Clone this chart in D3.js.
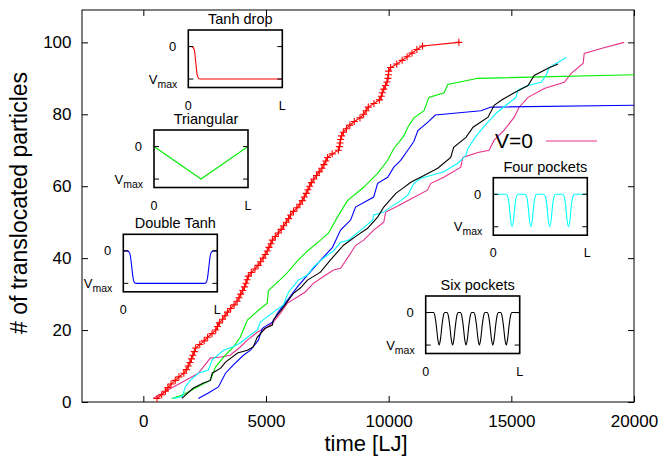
<!DOCTYPE html>
<html><head><meta charset="utf-8">
<script src="https://cdn.jsdelivr.net/npm/d3@7"></script>
<style>html,body{margin:0;padding:0;background:#fff;} svg{display:block;font-family:"Liberation Sans",Arial,Helvetica,sans-serif;}</style>
</head><body><svg id="c" width="662" height="461"></svg>
<script>
// ---------------- DATA ----------------
const xTicks = [0, 5000, 10000, 15000, 20000];
const yTicks = [0, 20, 40, 60, 80, 100];
const xLabel = "time [LJ]";
const yLabel = "# of translocated particles";
const legendLabel = "V=0";

// Tanh drop (red, with + markers)
const tanhDrop = [[560,1],[750,2],[900,3],[1000,4],[1130,5],[1300,6],[1450,7],[1650,8],[1750,9],[1830,10],
[1900,11],[1960,12],[2020,13],[2080,14],[2130,15],[2300,16],[2480,17],[2620,18],[2800,19],[2950,20],
[3020,21],[3100,22],[3230,23],[3330,24],[3430,25],[3560,26],[3700,27],[3820,28],[3900,29],[3970,30],
[4050,31],[4120,32],[4180,33],[4230,34],[4280,35],[4400,36],[4550,37],[4680,38],[4780,39],[4880,40],
[4970,41],[5050,42],[5120,43],[5200,44],[5260,45],[5380,46],[5500,47],[5620,48],[5720,49],[5830,50],
[5920,51],[6000,52],[6120,53],[6260,54],[6380,55],[6480,56],[6560,57],[6640,58],[6710,59],[6780,60],
[6850,61],[6950,62],[7060,63],[7170,64],[7280,65],[7360,66],[7440,67],[7510,68],[7700,69],[7950,70],
[7990,71],[8020,72],[8040,73],[8080,74],[8150,75],[8280,76],[8420,77],[8600,78],[8830,79],[8980,80],
[9080,81],[9170,82],[9400,83],[9620,84],[9700,85],[9740,86],[9800,87],[9870,88],[9930,89],[9970,90],
[9990,91],[10000,92],[10080,93],[10330,94],[10550,95],[10750,96],[10950,97],[11150,98],[11380,99],[12860,100]];

// Triangular (green)
const triangular = [[1160,1],[1620,2],[2240,4.3],[2730,6],[2940,9.7],[3270,12.5],[3670,15.3],[3950,18],
[4240,22.8],[4690,25.5],[5050,27.5],[5100,31],[5580,34],[5870,36],[6320,39.5],[6690,42],[7220,45],
[7550,47],[7910,51.4],[8320,56],[8980,59.7],[9550,63.6],[9960,67.2],[10210,70.5],[10620,74],
[10780,76.4],[11030,79],[11440,81],[11640,84.7],[12260,86],[12410,88.3],[13640,90],[20000,91]];

// Double Tanh (blue)
const doubleTanh = [[2240,1],[2650,2.5],[3060,4.2],[3350,8],[3670,10.3],[4080,13],[4370,14.4],[4690,17.2],
[4850,20.5],[5260,22.2],[5500,25],[5870,28.3],[6280,32],[6690,35.3],[7220,39.4],[7710,43],[8040,47.8],
[8450,50.6],[8650,54.2],[9390,57],[9550,60.8],[9960,62.5],[10210,65.3],[10490,67.2],[10780,70],
[11030,72.5],[11190,75.5],[11600,77.8],[11900,79.8],[13760,81],[14170,82],[20000,82.5]];

// Four pockets (cyan)
const fourPockets = [[1220,1],[1590,1.5],[1710,4.2],[1910,6],[2240,8],[2650,8.9],[2810,11.7],[3270,14.4],
[3630,15.3],[3950,16.4],[4240,18],[4640,20],[4770,22.2],[5300,25],[5710,27],[5920,30.6],[6320,33.9],
[6690,35.3],[6930,37.5],[7340,40],[7750,42],[8040,44.4],[8360,45],[8860,47.8],[9350,50.6],[9390,52],
[9800,52.8],[10080,54.2],[10490,56],[10780,57.5],[11030,60.8],[11310,62.2],[11720,63],[12240,64],
[12820,66.4],[13150,68.6],[13230,70.5],[13640,74.7],[14050,77.8],[14380,80.3],[14870,83],[15190,84.7],
[15270,86.7],[15680,88],[16210,88.9],[16420,90.8],[16540,93],[17240,95.8]];

// Six pockets (black)
const sixPockets = [[1570,1],[2040,3.9],[2450,5.3],[2730,6],[2810,8],[3150,9.4],[3350,11.1],[3840,13.6],
[4240,14.4],[4480,15.3],[4640,18],[4970,20.5],[5260,21.4],[5300,22.8],[5710,26.4],[6130,30.3],
[6400,31.7],[6690,33.9],[7220,36.1],[7630,39.5],[8160,43.6],[8730,46.4],[9140,48.3],[9550,51.4],
[9800,54.2],[10290,58],[10570,59.4],[10900,61.1],[11440,63],[12000,65],[12530,68],[12650,70.8],
[13150,73.6],[13440,76.4],[14050,79.2],[14300,82.5],[14590,83.9],[15120,86],[15680,88],[15930,90.8],
[16500,92.8],[16900,94]];

// V=0 (magenta)
const vZero = [[400,1],[800,2.5],[1220,4.2],[1710,6],[2240,8],[2730,12.2],[3150,12.5],[3540,13],[3950,15.3],
[4240,17.2],[4640,19.4],[5050,20.8],[5300,22.2],[5590,24.7],[5870,27.5],[6280,29.2],[6600,30.6],
[6930,33],[7300,34.7],[7750,36.7],[8040,37.2],[8320,40],[8650,43.5],[8980,45],[9390,47.8],[9800,50],
[9880,52.8],[10370,54.5],[10980,56.7],[11580,58.9],[11720,60.8],[12250,62.5],[12940,65.3],[13020,68],
[13640,69.4],[14090,70],[14300,72.8],[14710,75.6],[15120,79.2],[15310,81.9],[15680,84.7],[16340,87.2],
[17160,88.9],[17440,91.4],[17930,94.2],[17970,96.9],[18660,98.3],[19600,100]];

// Inset potential profiles: [position along pore (0..L), V (0..Vmax=-1)]
const potTanhDrop = [[0,0],[0.03,0],[0.05,-0.02],[0.065,-0.12],[0.08,-0.5],[0.095,-0.88],[0.11,-0.98],[0.125,-1],[0.15,-1],[1,-1]];
const potTriangular = [[0,0],[0.5,-1],[1,0]];
const potDoubleTanh = [[0,0],[0.04,0],[0.06,-0.03],[0.075,-0.15],[0.09,-0.5],[0.105,-0.85],[0.12,-0.98],[0.14,-1],
[0.86,-1],[0.88,-0.98],[0.895,-0.85],[0.91,-0.5],[0.925,-0.15],[0.94,-0.03],[0.96,0],[1,0]];
const potFourPockets = [[0,0],[0.135,0],[0.155,-0.08],[0.17,-0.35],[0.185,-0.8],[0.2,-1],[0.215,-0.8],[0.23,-0.35],[0.245,-0.08],[0.265,0],
[0.335,0],[0.355,-0.08],[0.37,-0.35],[0.385,-0.8],[0.4,-1],[0.415,-0.8],[0.43,-0.35],[0.445,-0.08],[0.465,0],
[0.535,0],[0.555,-0.08],[0.57,-0.35],[0.585,-0.8],[0.6,-1],[0.615,-0.8],[0.63,-0.35],[0.645,-0.08],[0.665,0],
[0.735,0],[0.755,-0.08],[0.77,-0.35],[0.785,-0.8],[0.8,-1],[0.815,-0.8],[0.83,-0.35],[0.845,-0.08],[0.865,0],[1,0]];
const potSixPockets = [[0,0],[0.083,0],[0.098,-0.1],[0.113,-0.4],[0.128,-0.8],[0.143,-1],[0.158,-0.8],[0.173,-0.4],[0.188,-0.1],[0.203,0],
[0.226,0],[0.241,-0.1],[0.256,-0.4],[0.271,-0.8],[0.286,-1],[0.301,-0.8],[0.316,-0.4],[0.331,-0.1],[0.346,0],
[0.369,0],[0.384,-0.1],[0.399,-0.4],[0.414,-0.8],[0.429,-1],[0.444,-0.8],[0.459,-0.4],[0.474,-0.1],[0.489,0],
[0.511,0],[0.526,-0.1],[0.541,-0.4],[0.556,-0.8],[0.571,-1],[0.586,-0.8],[0.601,-0.4],[0.616,-0.1],[0.631,0],
[0.654,0],[0.669,-0.1],[0.684,-0.4],[0.699,-0.8],[0.714,-1],[0.729,-0.8],[0.744,-0.4],[0.759,-0.1],[0.774,0],
[0.797,0],[0.812,-0.1],[0.827,-0.4],[0.842,-0.8],[0.857,-1],[0.872,-0.8],[0.887,-0.4],[0.902,-0.1],[0.917,0],[1,0]];
const insetTitles = ["Tanh drop", "Triangular", "Double Tanh", "Four pockets", "Six pockets"];
const insetTickLabels = ["0", "L"];

// ---------------- LAYOUT / STYLE ----------------
const PL = 82, PT = 10, PR = 634, PB = 402;
const FONT = '"Liberation Sans",Arial,Helvetica,sans-serif';

const seriesStyle = [
  {data: vZero, color: "#e8308a"},
  {data: triangular, color: "#00ee00"},
  {data: doubleTanh, color: "#0000ff"},
  {data: fourPockets, color: "#00ffff"},
  {data: sixPockets, color: "#000000"},
  {data: tanhDrop, color: "#ff0000", marker: true}
];

const insetLayout = [
  {title: insetTitles[0], pot: potTanhDrop, color: "#ff0000", left: 188.3, top: 30, smooth: true},
  {title: insetTitles[1], pot: potTriangular, color: "#00ee00", left: 154, top: 130, smooth: false},
  {title: insetTitles[2], pot: potDoubleTanh, color: "#0000ff", left: 123.3, top: 234.3, smooth: true},
  {title: insetTitles[3], pot: potFourPockets, color: "#00ffff", left: 493.3, top: 177.7, smooth: true},
  {title: insetTitles[4], pot: potSixPockets, color: "#000000", left: 425.7, top: 296, smooth: true}
];
const IW = 94, IH = 57.5;

// ---------------- DRAW ----------------
const svg = d3.select("#c");
const x = d3.scaleLinear().domain([-2500, 20000]).range([PL, PR]);
const y = d3.scaleLinear().domain([0, 109]).range([PB, PT]);

svg.append("defs").append("clipPath").attr("id","clip")
  .append("rect").attr("x",PL).attr("y",PT).attr("width",PR-PL).attr("height",PB-PT);

function styleAxis(g, size){
  g.attr("font-family", FONT).attr("font-size", size);
  g.select(".domain").remove();
  g.selectAll(".tick line").attr("stroke","#000").attr("stroke-width",1);
  g.selectAll(".tick text").attr("fill","#000");
}

svg.append("g").attr("transform",`translate(0,${PB})`)
  .call(d3.axisBottom(x).tickValues(xTicks).tickSize(-6).tickPadding(12.5).tickFormat(d3.format("d")))
  .call(g=>styleAxis(g,17));
svg.append("g").attr("transform",`translate(0,${PT})`)
  .call(d3.axisTop(x).tickValues(xTicks).tickSize(-6).tickFormat(""))
  .call(g=>styleAxis(g,17));
svg.append("g").attr("transform",`translate(${PL},0)`)
  .call(d3.axisLeft(y).tickValues(yTicks).tickSize(-6).tickPadding(10.5))
  .call(g=>styleAxis(g,17));
svg.append("g").attr("transform",`translate(${PR},0)`)
  .call(d3.axisRight(y).tickValues(yTicks).tickSize(-6).tickFormat(""))
  .call(g=>styleAxis(g,17));

svg.append("rect").attr("x",PL).attr("y",PT).attr("width",PR-PL).attr("height",PB-PT)
  .attr("fill","none").attr("stroke","#000").attr("stroke-width",1);

// axis titles
svg.append("text").attr("x",366).attr("y",450.5).attr("text-anchor","middle")
  .attr("font-family",FONT).attr("font-size",22).text(xLabel);
svg.append("text").attr("transform","translate(27,203) rotate(-90)").attr("text-anchor","middle")
  .attr("font-family",FONT).attr("font-size",23).text(yLabel);

// series
const line = d3.line().x(d=>x(d[0])).y(d=>y(d[1]));
const plotG = svg.append("g").attr("clip-path","url(#clip)");
seriesStyle.forEach(s=>{
  plotG.append("path").datum(s.data).attr("d",line)
    .attr("fill","none").attr("stroke",s.color).attr("stroke-width",1.1);
  if (s.marker){
    plotG.selectAll(null).data(s.data).join("path")
      .attr("transform",d=>`translate(${x(d[0])},${y(d[1])})`)
      .attr("d","M-3.5,0H3.5M0,-3.5V3.5")
      .attr("stroke",s.color).attr("stroke-width",1.1).attr("fill","none");
  }
});

// legend
svg.append("text").attr("x",533).attr("y",148).attr("text-anchor","end")
  .attr("font-family",FONT).attr("font-size",21).text(legendLabel);
svg.append("line").attr("x1",546).attr("x2",597).attr("y1",141).attr("y2",141)
  .attr("stroke","#e8308a").attr("stroke-width",1.2);

// insets
insetLayout.forEach(ins=>{
  const g = svg.append("g").attr("transform",`translate(${ins.left},${ins.top})`)
    .attr("font-family",FONT);
  const ix = d3.scaleLinear().domain([0,1]).range([0,IW]);
  const iy = d3.scaleLinear().domain([-1.26,0.51]).range([IH,0]);
  g.append("path").datum(ins.pot)
    .attr("d", d3.line().x(d=>ix(d[0])).y(d=>iy(d[1])).curve(ins.smooth ? d3.curveMonotoneX : d3.curveLinear))
    .attr("fill","none").attr("stroke",ins.color).attr("stroke-width",1.1);
  [0,-1].forEach(v=>{
    g.append("line").attr("x1",0).attr("x2",5).attr("y1",iy(v)).attr("y2",iy(v)).attr("stroke","#000");
    g.append("line").attr("x1",IW-5).attr("x2",IW).attr("y1",iy(v)).attr("y2",iy(v)).attr("stroke","#000");
  });
  g.append("rect").attr("width",IW).attr("height",IH).attr("fill","none")
    .attr("stroke","#000").attr("stroke-width",1.6);
  // y tick labels
  g.append("text").attr("x",-12).attr("y",iy(0)+4.6).attr("text-anchor","end")
    .attr("font-size",13).text("0");
  const vt = g.append("text").attr("x",-11).attr("y",iy(-1)+4.6).attr("text-anchor","end").attr("font-size",13);
  vt.append("tspan").text("V");
  vt.append("tspan").attr("font-size",10.5).attr("dy",4).text("max");
  // x tick labels
  [0,1].forEach((p,i)=>{
    g.append("text").attr("x",ix(p)).attr("y",IH+22).attr("text-anchor","middle")
      .attr("font-size",12.5).text(insetTickLabels[i]);
  });
  // title
  g.append("text").attr("x",IW/2+5).attr("y",-6).attr("text-anchor","middle")
    .attr("font-size",14.5).text(ins.title);
});
</script>
</body></html>
